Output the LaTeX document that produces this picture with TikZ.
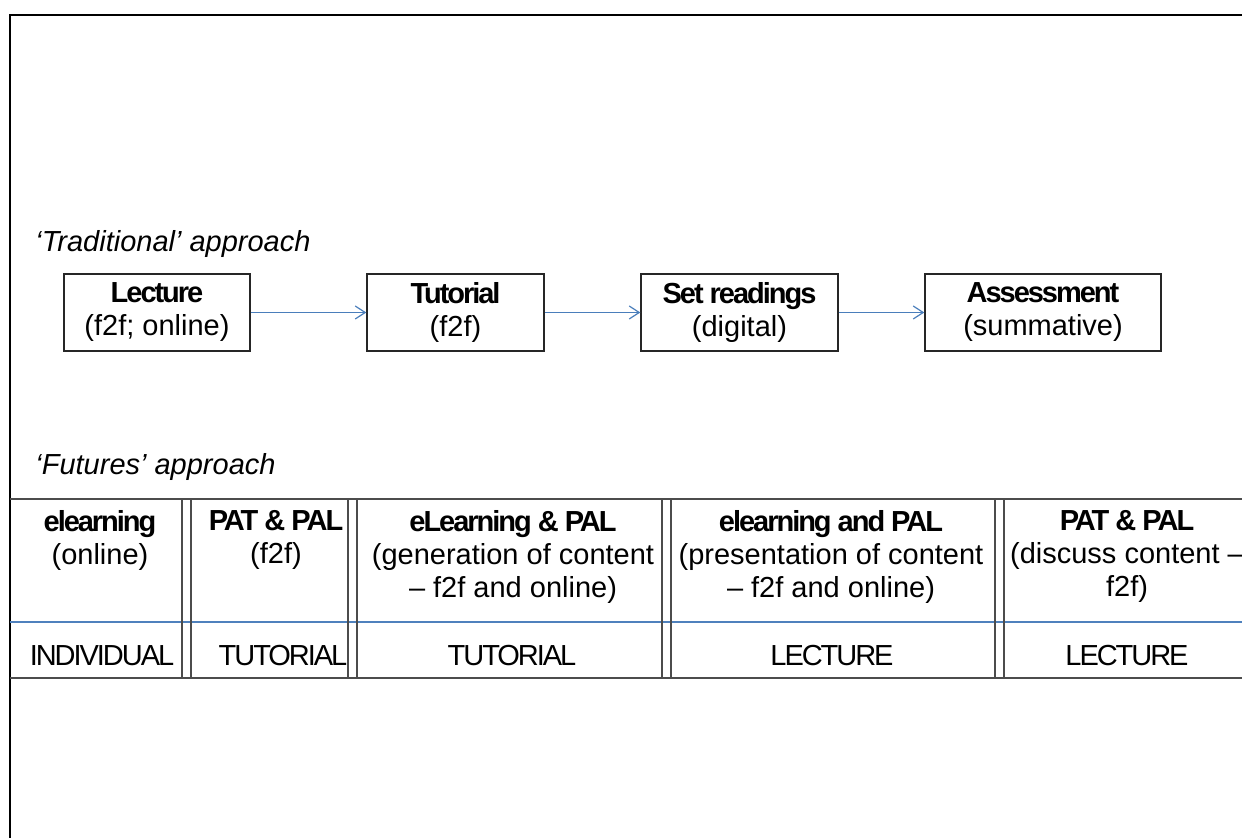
\documentclass[tikz,border=0pt]{standalone}
\usepackage{fontspec}
\setmainfont{Liberation Sans}
\newfontfamily\tightfont[LetterSpace=-7]{Liberation Sans}
\usetikzlibrary{arrows.meta}
\definecolor{arrowblue}{HTML}{4A7EBB}
\definecolor{lineblue}{HTML}{4F81BD}
\begin{document}
\begin{tikzpicture}[x=0.5pt,y=-0.5pt,
  every node/.style={font=\fontsize{14.5}{16.5}\selectfont, inner sep=0pt},
  flowbox/.style={draw=black!85, line width=0.7pt, minimum height=38.5pt, align=center},
  flowarrow/.style={draw=arrowblue, line width=0.6pt, -{Straight Barb[length=5pt,width=6.5pt]}},
  celltext/.style={align=center, anchor=north},
  rowtext/.style={anchor=base},
  tabline/.style={draw=black!70, line width=0.55pt},
  heading/.style={font=\fontsize{14.5}{16.5}\selectfont\itshape, anchor=base west}]
\useasboundingbox (0,0) rectangle (1242,838);
% outer frame (right and bottom sides fall outside the picture)
\draw[line width=1pt, line join=miter] (1242,15) -- (10,15) -- (10,838);

% Traditional approach
\node[heading] (trad) at (35,252) {‘Traditional’ approach};
\node[flowbox, minimum width=93pt]   (lec)    at (157,312.5)  {{\tightfont\bfseries Lecture}\\(f2f; online)};
\node[flowbox, minimum width=88.5pt] (tut)    at (455.5,312.5) {{\tightfont\bfseries Tutorial}\\(f2f)};
\node[flowbox, minimum width=98.5pt] (read)   at (739.5,312.5) {{\tightfont\bfseries Set readings}\\(digital)};
\node[flowbox, minimum width=118pt]  (assess) at (1043,312.5)  {{\tightfont\bfseries Assessment}\\(summative)};
\draw[flowarrow] (lec) -- (tut);
\draw[flowarrow] (tut) -- (read);
\draw[flowarrow] (read) -- (assess);

% Futures approach
\node[heading] (fut) at (35,475) {‘Futures’ approach};
\draw[tabline] (10,499) -- (1242,499);
\draw[tabline, line width=0.8pt] (10,678) -- (1242,678);
\draw[draw=lineblue, line width=0.6pt] (10,622) -- (1242,622);
\foreach \x in {182,191,348,357,662,671,995,1004}
  \draw[tabline] (\x,499) -- (\x,678);

\node[celltext] (c1) at (100,510) {{\tightfont\bfseries elearning}\\(online)};
\node[celltext] (c2) at (276,510) {{\tightfont\bfseries PAT \& PAL}\\(f2f)};
\node[celltext] (c3) at (513,510) {{\tightfont\bfseries eLearning \& PAL}\\(generation of content\\– f2f and online)};
\node[celltext] (c4) at (831,510) {{\tightfont\bfseries elearning and PAL}\\(presentation of content\\– f2f and online)};
\node[celltext] (c5) at (1127,510) {{\tightfont\bfseries PAT \& PAL}\\(discuss content –\\f2f)};

\node[rowtext] (r1) at (102,666) {\tightfont INDIVIDUAL};
\node[rowtext] (r2) at (283,666) {\tightfont TUTORIAL};
\node[rowtext] (r3) at (512,666) {\tightfont TUTORIAL};
\node[rowtext] (r4) at (832,666) {\tightfont LECTURE};
\node[rowtext] (r5) at (1127,666) {\tightfont LECTURE};
\end{tikzpicture}
\end{document}
